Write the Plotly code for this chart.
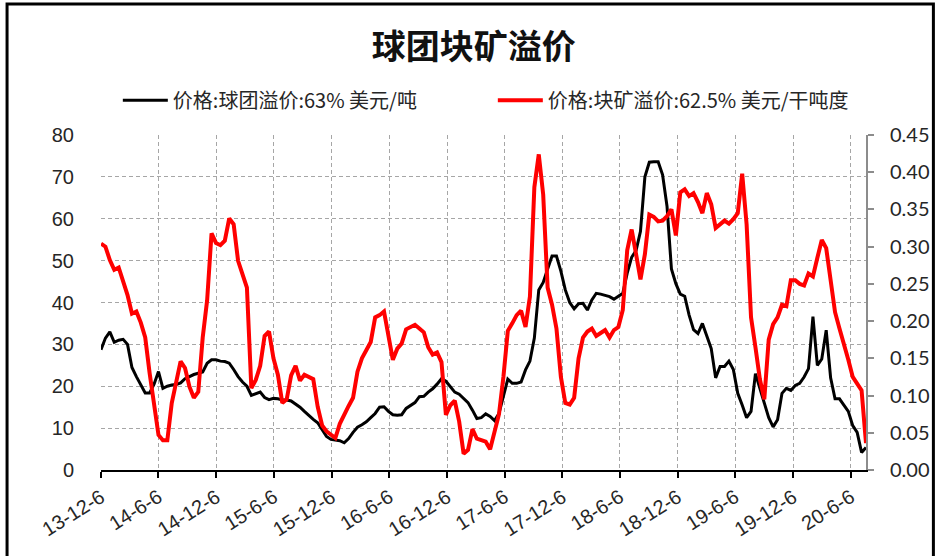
import pandas as pd
import plotly.graph_objects as go

# Biweekly observations, first one on 2013-12-06
start_date = "2013-12-06"
n_obs = 174
dates = pd.date_range(start_date, periods=n_obs, freq="14D")

# 价格:球团溢价:63% (美元/吨), left axis
pellet_premium = [
    28.7, 31.5, 33.0, 30.5, 31.0, 31.2, 30.0, 24.5, 22.3, 20.3,
    18.4, 18.4, 20.5, 23.5, 19.5, 20.0, 20.3, 20.4, 20.8, 21.8,
    22.3, 22.8, 23.1, 23.4, 25.5, 26.3, 26.3, 26.0, 25.9, 25.5,
    24.0, 22.3, 21.0, 20.0, 17.8, 18.2, 18.6, 17.3, 16.8, 17.1,
    17.0, 16.7, 16.7, 16.5, 15.8, 15.0, 14.0, 13.0, 12.1, 11.3,
    9.5, 8.0, 7.3, 7.2, 7.0, 6.5, 7.5, 9.0, 10.2, 10.8,
    11.5, 12.5, 13.5, 15.0, 15.1, 14.0, 13.2, 13.1, 13.2, 14.7,
    15.4, 16.1, 17.5, 17.6, 18.6, 19.4, 20.5, 21.8, 21.2, 19.8,
    18.6, 18.1, 17.2, 16.1, 14.3, 12.3, 12.5, 13.4, 12.8, 11.8,
    13.5, 17.5, 21.7, 20.7, 20.7, 21.0, 23.9, 26.0, 31.5, 43.0,
    44.8, 48.0, 51.1, 51.1, 47.5, 43.0, 40.0, 38.5, 39.7, 39.8,
    38.2, 40.6, 42.2, 42.0, 41.7, 41.4, 40.8, 41.5, 42.2, 47.0,
    50.8, 52.4, 57.0, 70.0, 73.5, 73.6, 73.6, 70.5, 63.0, 48.0,
    44.5, 42.0, 41.5, 37.0, 33.5, 32.6, 35.0, 32.0, 29.0, 22.0,
    24.7, 24.7, 26.0, 24.0, 18.3, 15.5, 12.5, 14.0, 23.0, 19.5,
    16.0, 12.5, 10.3, 12.0, 18.3, 19.5, 19.0, 20.2, 20.7, 22.2,
    24.2, 36.6, 25.0, 26.5, 33.4, 22.0, 17.0, 17.0, 15.5, 14.0,
    10.6, 9.0, 4.2, 5.4,
]

# 价格:块矿溢价:62.5% (美元/干吨度), right axis
lump_premium = [
    0.304, 0.300, 0.282, 0.269, 0.272, 0.254, 0.235, 0.210, 0.213, 0.198,
    0.178, 0.130, 0.090, 0.047, 0.040, 0.040, 0.090, 0.118, 0.146, 0.137,
    0.112, 0.097, 0.105, 0.178, 0.228, 0.318, 0.305, 0.302, 0.308, 0.338,
    0.330, 0.281, 0.262, 0.245, 0.110, 0.121, 0.140, 0.180, 0.186, 0.150,
    0.128, 0.090, 0.095, 0.127, 0.140, 0.120, 0.128, 0.125, 0.122, 0.085,
    0.060, 0.052, 0.047, 0.043, 0.062, 0.075, 0.086, 0.097, 0.132, 0.150,
    0.162, 0.172, 0.205, 0.208, 0.213, 0.180, 0.148, 0.163, 0.170, 0.189,
    0.192, 0.195, 0.190, 0.185, 0.165, 0.155, 0.158, 0.145, 0.074, 0.087,
    0.093, 0.065, 0.022, 0.027, 0.055, 0.042, 0.040, 0.038, 0.028, 0.050,
    0.075, 0.125, 0.187, 0.197, 0.208, 0.214, 0.192, 0.233, 0.380, 0.424,
    0.370, 0.245, 0.222, 0.190, 0.125, 0.090, 0.088, 0.097, 0.150, 0.178,
    0.186, 0.190, 0.180, 0.184, 0.188, 0.178, 0.188, 0.192, 0.215, 0.295,
    0.323, 0.290, 0.256, 0.290, 0.343, 0.340, 0.334, 0.335, 0.341, 0.350,
    0.315, 0.373, 0.377, 0.368, 0.372, 0.360, 0.345, 0.372, 0.357, 0.325,
    0.330, 0.335, 0.331, 0.337, 0.345, 0.398, 0.330, 0.205, 0.165, 0.122,
    0.095, 0.175, 0.196, 0.205, 0.222, 0.220, 0.255, 0.255, 0.250, 0.248,
    0.264, 0.260, 0.285, 0.309, 0.298, 0.255, 0.212, 0.190, 0.170, 0.148,
    0.125, 0.116, 0.107, 0.036,
]

pellet_name = "价格:球团溢价:63% 美元/吨"
lump_name = "价格:块矿溢价:62.5% 美元/干吨度"
title_text = "球团块矿溢价"

grid_color = "#a6a6a6"
text_color = "#262626"

fig = go.Figure()
fig.add_trace(go.Scatter(
    x=dates, y=pellet_premium, name=pellet_name, mode="lines",
    line=dict(color="#000000", width=3), yaxis="y",
))
fig.add_trace(go.Scatter(
    x=dates, y=lump_premium, name=lump_name, mode="lines",
    line=dict(color="#ff0000", width=4), yaxis="y2",
))

fig.update_layout(
    width=942, height=556,
    margin=dict(l=101, r=71, t=135, b=86),
    paper_bgcolor="white", plot_bgcolor="white",
    title=dict(
        text=title_text, x=0.503, xref="container", xanchor="center",
        y=0.915, yref="container", yanchor="middle",
        font=dict(family="Noto Sans CJK SC", size=34, color="#111111", weight="bold"),
    ),
    showlegend=True,
    legend=dict(
        orientation="h", x=0.022, xanchor="left", y=1.104, yanchor="middle",
        font=dict(family="Noto Sans CJK SC", size=20, color=text_color),
        itemwidth=45,
        entrywidth=315, entrywidthmode="pixels",
        bgcolor="rgba(0,0,0,0)", itemclick=False,
    ),
    xaxis=dict(
        type="date", range=[dates[0], dates[-1]],
        tick0=start_date, dtick="M6", tickformat="%y-%-m-%-d", tickangle=-32,
        showgrid=True, gridcolor=grid_color, griddash="4px,3px", gridwidth=1,
        showline=True, linecolor="#000000", linewidth=2,
        ticks="outside", ticklen=6, tickwidth=2, tickcolor="#000000",
        tickfont=dict(family="Liberation Sans", size=20, color=text_color),
        zeroline=False,
    ),
    yaxis=dict(
        range=[0, 80], dtick=10, tick0=0,
        showgrid=True, gridcolor=grid_color, griddash="4px,3px", gridwidth=1,
        showline=False, zeroline=False, ticks="",
        ticklabelstandoff=26,
        tickfont=dict(family="Liberation Sans", size=20, color=text_color),
    ),
    yaxis2=dict(
        overlaying="y", side="right", range=[0, 0.45], dtick=0.05, tick0=0,
        tickformat=".2f", showgrid=False, zeroline=False,
        showline=True, linecolor="#8c8c8c", linewidth=2,
        ticks="outside", ticklen=6, tickwidth=2, tickcolor="#8c8c8c",
        ticklabelstandoff=12,
        tickfont=dict(family="Lato", size=20, color=text_color),
    ),
    shapes=[dict(
        type="rect", xref="paper", yref="paper",
        x0=-0.1228, x1=1.0881, y0=-0.30, y1=1.391,
        line=dict(color="#000000", width=3), fillcolor="rgba(0,0,0,0)",
        layer="above",
    )],
)

fig.write_html("out.html")
